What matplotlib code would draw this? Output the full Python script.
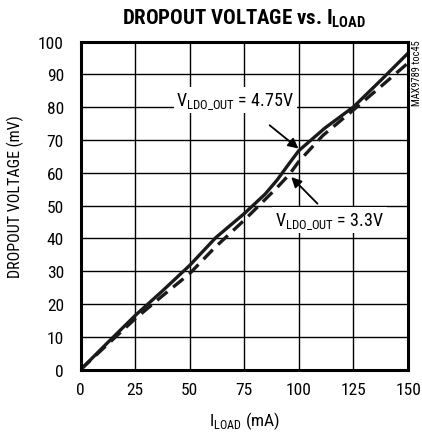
import numpy as np
import matplotlib
matplotlib.use("Agg")
import matplotlib.pyplot as plt
from matplotlib import font_manager

# pick a Helvetica-Narrow-like face from what is installed
names = {f.name for f in font_manager.fontManager.ttflist}
prefs = ['Roboto Condensed', 'Archivo Narrow', 'PT Sans Narrow', 'Liberation Sans Narrow', 'Liberation Sans']
main_font = next(n for n in prefs + ['DejaVu Sans'] if n in names or n == 'DejaVu Sans')

plt.rcParams['font.family'] = [main_font, 'DejaVu Sans']
plt.rcParams['mathtext.fontset'] = 'custom'
plt.rcParams['mathtext.rm'] = main_font
plt.rcParams['mathtext.bf'] = main_font + ':black'

# data
i_load_475 = [0, 12.5, 25, 37.5, 50, 62, 75, 84.5, 90, 95.6, 100, 112, 125, 137.5, 150]
vdo_475 = [0, 8.3, 16.5, 24, 31.8, 40.3, 47.6, 53.5, 57.8, 62.9, 66.8, 73.7, 80.1, 88.2, 96.5]

i_load_33 = [0, 12.5, 25, 37.5, 50, 61.3, 75, 90, 95.6, 100, 111, 125, 137.5, 150]
vdo_33 = [0, 7.8, 15.5, 22.5, 29.3, 37.1, 45.6, 55.5, 59.5, 63.5, 71.4, 79.2, 86.3, 93.5]

x_ticks = [0, 25, 50, 75, 100, 125, 150]
y_ticks = list(range(0, 101, 10))

fig = plt.figure(figsize=(4.22, 4.35), dpi=100)
ax = fig.add_axes([0.191, 0.148, 0.776, 0.754])

ax.plot(i_load_475, vdo_475, color='#1a1a1a', lw=2.4, solid_capstyle='butt')
ax.plot(i_load_33, vdo_33, color='#1a1a1a', lw=2.4, dashes=(4, 2.2))

ax.set_xlim(0, 150)
ax.set_ylim(0, 100)
ax.set_xticks(x_ticks)
ax.set_yticks(y_ticks)
ax.grid(True, color='black', lw=1.0)
ax.set_axisbelow(True)
ax.tick_params(length=0, labelsize=12.5)
ax.tick_params(axis='x', pad=9)
ax.tick_params(axis='y', pad=12)
for s in ax.spines.values():
    s.set_linewidth(2.2)

ax.set_xlabel(r'I$_{\mathregular{LOAD}}$ (mA)', fontsize=12.5, labelpad=9)
ax.set_ylabel('DROPOUT VOLTAGE (mV)', fontsize=11.5)
ax.yaxis.set_label_coords(-0.172, 0.53)
ax.set_title(r'DROPOUT VOLTAGE vs. I$_{\mathbf{LOAD}}$', fontsize=15,
             fontweight='black', pad=13)

txt_box = dict(boxstyle='square,pad=0.15', fc='white', ec='none')
ax.text(70.8, 82.1, r'V$_{\mathregular{LDO\_OUT}}$ = 4.75V', fontsize=13,
        ha='center', va='center', bbox=txt_box)
ax.text(114, 45.5, r'V$_{\mathregular{LDO\_OUT}}$ = 3.3V', fontsize=13,
        ha='center', va='center', bbox=txt_box)
arrow = dict(arrowstyle='-|>', color='black', lw=1.3, shrinkA=0, shrinkB=0,
             mutation_scale=15)
ax.annotate('', xy=(99.8, 67.4), xytext=(86.6, 74.5), arrowprops=arrow)
ax.annotate('', xy=(96.5, 58.7), xytext=(108.5, 50.6), arrowprops=arrow)

fig.text(0.988, 0.908, 'MAX9789 toc45', rotation=90, fontsize=7.5,
         ha='center', va='top')

fig.savefig('out.png', dpi=100)
